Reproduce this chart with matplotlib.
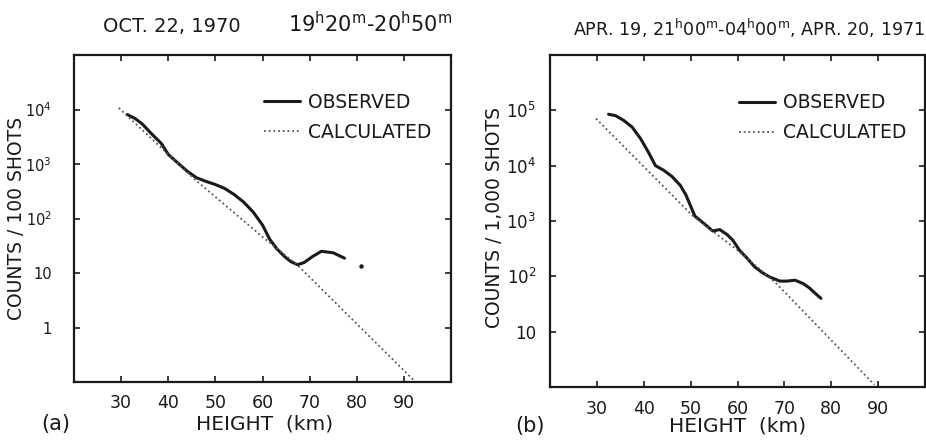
import numpy as np
import matplotlib
matplotlib.use("Agg")
import matplotlib.pyplot as plt
from matplotlib.ticker import FixedLocator, FixedFormatter, NullLocator

# ---------------- data ----------------
# Panel (a): OCT. 22, 1970
a_obs_h = [31.3, 33, 34.5, 36.5, 38.5, 40, 42, 44, 46, 48, 50, 52, 54, 56, 58, 60,
           61.5, 63, 64.7, 66, 67.4, 68.8, 70.6, 72.5, 75, 77.4]
a_obs_c = [8100, 6800, 5400, 3550, 2400, 1500, 1050, 740, 560, 480, 420, 355, 275,
           200, 132, 76, 42, 28, 20, 16.2, 14.2, 15.5, 20, 25, 23.5, 18.7]
a_extra_h = [81.0]
a_extra_c = [13.4]
a_calc_h = [29.5, 46, 60, 67.4, 92]
a_calc_c = [10700, 490, 46, 14.0, 0.11]
a_yticks = [1, 10, 100, 1000, 10000]
a_ylabels = ['1', '10', '10$^{2}$', '10$^{3}$', '10$^{4}$']

# Panel (b): APR. 19-20, 1971
b_obs_h = [32.5, 34, 35.7, 37.5, 39.3, 41, 42.5, 44.2, 46, 47.8, 49, 50.9, 53.2, 54.7,
           56.2, 57.7, 59, 60.5, 62, 63.6, 65.2, 66.8, 69, 70.5, 72.3, 74, 75.3, 76.5, 77.8]
b_obs_c = [85000, 80000, 66000, 50000, 31000, 17500, 10000, 8300, 6400, 4400, 2950,
           1230, 850, 660, 700, 575, 450, 290, 215, 150, 118, 98, 82, 82, 85, 74, 62, 50, 40]
b_calc_h = [29.8, 50.5, 60.5, 68.3, 89.2]
b_calc_c = [71000, 1230, 275, 74, 1.1]
b_yticks = [10, 100, 1000, 10000, 100000]
b_ylabels = ['10', '10$^{2}$', '10$^{3}$', '10$^{4}$', '10$^{5}$']

x_ticks = [30, 40, 50, 60, 70, 80, 90]
x_labels = ['30', '40', '50', '60', '70', '80', '90']

# ---------------- figure ----------------
plt.rcParams['font.family'] = ['DejaVu Sans']
plt.rcParams['mathtext.fontset'] = 'dejavusans'
W, H = 926, 441
fig = plt.figure(figsize=(W / 100, H / 100), dpi=100)
fig.patch.set_facecolor('white')


def px(x0, y0, x1, y1):
    return [x0 / W, 1 - y1 / H, (x1 - x0) / W, (y1 - y0) / H]


axa = fig.add_axes(px(74, 55, 451, 382))
axb = fig.add_axes(px(550, 55, 925, 387))

ink = '#1a1a1a'
for ax, oh, oc, ch, cc, yt, yl, ylim, ypad, ysize in [
        (axa, a_obs_h, a_obs_c, a_calc_h, a_calc_c, a_yticks, a_ylabels, (0.1, 1e5), 16, 10.5),
        (axb, b_obs_h, b_obs_c, b_calc_h, b_calc_c, b_yticks, b_ylabels, (1, 1e6), 10, 12)]:
    ax.set_yscale('log')
    ax.set_xlim(20, 100)
    ax.set_ylim(*ylim)
    ax.plot(oh, oc, color=ink, lw=2.2, solid_capstyle='round', label='OBSERVED')
    ax.plot(ch, cc, color='#555555', lw=1.3, linestyle=(0, (1, 1.6)), label='CALCULATED')
    ax.xaxis.set_major_locator(FixedLocator(x_ticks))
    ax.xaxis.set_major_formatter(FixedFormatter(x_labels))
    ax.yaxis.set_major_locator(FixedLocator(yt))
    ax.yaxis.set_major_formatter(FixedFormatter(yl))
    ax.yaxis.set_minor_locator(NullLocator())
    ax.xaxis.set_minor_locator(NullLocator())
    ax.tick_params(axis='both', direction='in', length=4, width=1.2, color=ink,
                   top=True, right=True, labelcolor=ink)
    ax.tick_params(axis='x', pad=9, labelsize=12.5)
    ax.tick_params(axis='y', pad=ypad, labelsize=ysize)
    for s in ax.spines.values():
        s.set_linewidth(1.6)
        s.set_color(ink)
    leg = ax.legend(loc='upper left', bbox_to_anchor=(0.505, 0.885), frameon=False,
                    fontsize=13.5, handlelength=1.9, handletextpad=0.4,
                    labelspacing=0.6, borderpad=0, borderaxespad=0)
    for t in leg.get_texts():
        t.set_color(ink)

axa.plot(a_extra_h, a_extra_c, 'o', color=ink, ms=2.2)

# titles
fig.text(103 / W, 1 - 26 / H, 'OCT. 22, 1970', fontsize=14, color=ink,
         ha='left', va='center')
fig.text(288 / W, 1 - 24 / H, '19$^{\\mathrm{h}}$20$^{\\mathrm{m}}$-20$^{\\mathrm{h}}$50$^{\\mathrm{m}}$',
         fontsize=15, color=ink, ha='left', va='center')
fig.text(573 / W, 1 - 28 / H,
         'APR. 19, 21$^{\\mathrm{h}}$00$^{\\mathrm{m}}$-04$^{\\mathrm{h}}$00$^{\\mathrm{m}}$, APR. 20, 1971',
         fontsize=12.6, color=ink, ha='left', va='center')

# axis labels
fig.text(17 / W, 1 - 218 / H, 'COUNTS / 100 SHOTS', rotation=90, fontsize=13.5,
         color=ink, ha='center', va='center')
fig.text(494 / W, 1 - 217 / H, 'COUNTS / 1,000 SHOTS', rotation=90, fontsize=13.5,
         color=ink, ha='center', va='center')
fig.text(265 / W, 1 - 424 / H, 'HEIGHT  (km)', fontsize=14.5, color=ink,
         ha='center', va='center')
fig.text(738 / W, 1 - 426 / H, 'HEIGHT  (km)', fontsize=14.5, color=ink,
         ha='center', va='center')
fig.text(56 / W, 1 - 424 / H, '(a)', fontsize=15, color=ink, ha='center', va='center')
fig.text(530 / W, 1 - 426 / H, '(b)', fontsize=15, color=ink, ha='center', va='center')

fig.savefig('out.png', dpi=100, facecolor='white')
